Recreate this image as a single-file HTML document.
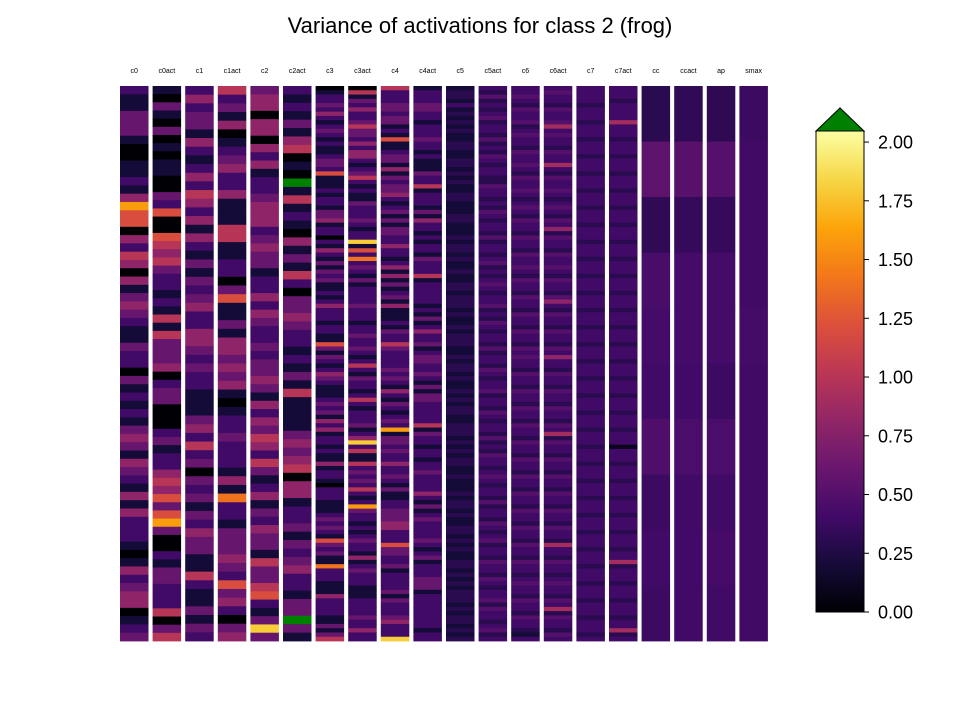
<!DOCTYPE html>
<html><head><meta charset="utf-8"><style>
body{margin:0;background:#fff;}
svg{display:block;font-family:"Liberation Sans","DejaVu Sans",sans-serif;}
</style></head><body>
<svg id="chart" width="960" height="720">
<text x="480" y="33" text-anchor="middle" font-size="22" fill="#000">Variance of activations for class 2 (frog)</text>
<g id="cols"></g>
<g id="cbar"></g>
</svg>
<script>
const columnNames = ["c0","c0act","c1","c1act","c2","c2act","c3","c3act","c4","c4act","c5","c5act","c6","c6act","c7","c7act","cc","ccact","ap","smax"];
// coarse digit strings: digit d => value d*0.2 ; G => above max (over colour)
const colC0   = "2113331001121486604254041343211322031212134314321414222101423440123";
const colC0a  = "10310301011003260065453221215153334023300023122454636830021332225035";
const colC1   = "2423314212425424142131323422443232211134252303231324331152113132";
const colC1a  = "5231401234224111551122036113144343410122322214172213334326342034";
const colC2   = "3440440424122344423433122424322323343142435425312413243315335621393";
const colC2a  = "21213145010G151210413152033432212131511113434504412231323422133G31";
const colC3   = "0122324212321211233261112122133412202142131323112124222122116313212432111232314241221211412210222111232321632311722211142222113135";
const colC3a  = "0513242235332424421235212113222321229162723213122223222122322321252132212521222312492511523232521283221212322141232221112222322422";
const colC4   = "5222332331216112331413233421231313322422124141312314111213225322223232142132123281332322422321311223334422263322312222313222342229";
const colC4a  = "1222332212223221211132251222131422121221322251222221213124223123322321313322222513221221223222242131232222321231222333122222222122";
// fine digit strings: digit d => value d*0.1
const colC5   = "2332423232322332233232322332223322232332322322332333232232333223233232232323322333232323322322232332322332323223323232333232332323";
const colC5a  = "4353434534435343543443354434354344353443453434543445343543443534435434453443543443534354434543443534435434534435443543445354434534";
const colC6   = "4454354453454435445435445434543544354435445435443544354435443545443544354435443544354435443544354435443544354435443454435443544324";
const colC6a  = "4544354459454435449435445434543548354435445435443584354435443548443544354435443549354435443544354435443544394435443454435493544354";
const colC7   = "4444344434443444344434443444344434443444344434443444344434443444344434443444344434443444344434443444344434443444344434443444344434";
const colC7a  = "4443444494443444344434443444344434443444344434443444344434443444344434443444344434441444344434443444344434443449344434443444344934";
// numeric values for coarse layers
const colCC   = [0.30,0.55,0.33,0.44,0.42,0.40,0.47,0.38,0.40,0.38];
const colCCa  = [0.33,0.52,0.35,0.42,0.42,0.41,0.45,0.40,0.41,0.40];
const colAP   = [0.32,0.50,0.35,0.42,0.42,0.38,0.45,0.40,0.43,0.40];
const colSmax = [0.38,0.40,0.40,0.40,0.42,0.40,0.40,0.40,0.40,0.40];
const cbarTicks = [0,0.25,0.5,0.75,1.0,1.25,1.5,1.75,2.0];
const vmax = 2.047;

function parse(s){return s.split("").map(c=>c==="G"?9:Number(c)*0.2);}
function parseFine(s){return s.split("").map(c=>Number(c)*0.1);}
const columnData = [parse(colC0),parse(colC0a),parse(colC1),parse(colC1a),parse(colC2),parse(colC2a),
 parse(colC3),parse(colC3a),parse(colC4),parse(colC4a),parseFine(colC5),parseFine(colC5a),parseFine(colC6),parseFine(colC6a),
 parseFine(colC7),parseFine(colC7a),colCC,colCCa,colAP,colSmax];

const stops=[[0,0,4],[22,11,57],[66,10,104],[106,23,110],[147,38,103],[188,55,84],[221,81,58],[243,120,25],[252,165,10],[246,215,70],[252,255,164]];
function inferno(v){
  if(v>vmax) return "#008000";
  let t=Math.max(0,Math.min(1,v/vmax))*10, i=Math.min(9,Math.floor(t)), f=t-i;
  const a=stops[i],b=stops[i+1];
  return "rgb("+[0,1,2].map(k=>Math.round(a[k]+(b[k]-a[k])*f)).join(",")+")";
}
const NS="http://www.w3.org/2000/svg";
const x0=120, colStep=32.6, colW=28.5, yTop=86, yBot=641;
function xScale(i){return x0+i*colStep;}
const g=document.getElementById("cols");
columnNames.forEach((name,i)=>{
  const cg=document.createElementNS(NS,"g");
  
  
  const lab=document.createElementNS(NS,"text");
  lab.setAttribute("x",xScale(i)+colW/2);lab.setAttribute("y",73);lab.setAttribute("font-size","7");
  lab.setAttribute("text-anchor","middle");lab.textContent=name;
  
  
  cg.appendChild(lab);
  const vals=columnData[i], h=(yBot-yTop)/vals.length;
  vals.forEach((v,r)=>{
    const rc=document.createElementNS(NS,"rect");
    rc.setAttribute("x",xScale(i));rc.setAttribute("width",colW);
    rc.setAttribute("y",yTop+r*h);rc.setAttribute("height",h+0.4);
    rc.setAttribute("fill",inferno(v));
    
    
    cg.appendChild(rc);
  });
  g.appendChild(cg);
});
// colorbar
const cb=document.getElementById("cbar");
const cbx=816, cbw=48, cbTop=131, cbBot=612;
function cbY(v){return cbBot-(v/vmax)*(cbBot-cbTop);}
const defs=document.createElementNS(NS,"defs");
const lg=document.createElementNS(NS,"linearGradient");
lg.setAttribute("id","grad");lg.setAttribute("x1","0");lg.setAttribute("y1","1");lg.setAttribute("x2","0");lg.setAttribute("y2","0");
stops.forEach((s,k)=>{const st=document.createElementNS(NS,"stop");st.setAttribute("offset",k/10);st.setAttribute("stop-color","rgb("+s.join(",")+")");lg.appendChild(st);});
defs.appendChild(lg);cb.appendChild(defs);
const bar=document.createElementNS(NS,"rect");
bar.setAttribute("x",cbx);bar.setAttribute("y",cbTop);bar.setAttribute("width",cbw);bar.setAttribute("height",cbBot-cbTop);
bar.setAttribute("fill","url(#grad)");bar.setAttribute("stroke","#000");bar.setAttribute("stroke-width","1");


cb.appendChild(bar);
const tri=document.createElementNS(NS,"polygon");
tri.setAttribute("points",cbx+","+cbTop+" "+(cbx+cbw/2)+",108 "+(cbx+cbw)+","+cbTop);
tri.setAttribute("fill","#008000");tri.setAttribute("stroke","#000");tri.setAttribute("stroke-width","1");


cb.appendChild(tri);
cbarTicks.forEach(v=>{
  const y=cbY(v);
  const tk=document.createElementNS(NS,"line");
  tk.setAttribute("x1",cbx+cbw);tk.setAttribute("x2",cbx+cbw+5);tk.setAttribute("y1",y);tk.setAttribute("y2",y);tk.setAttribute("stroke","#000");
  
  
  cb.appendChild(tk);
  const t=document.createElementNS(NS,"text");
  t.setAttribute("x",cbx+cbw+14);t.setAttribute("y",y+6.5);t.setAttribute("font-size","18");
  t.textContent=v.toFixed(2);
  
  
  cb.appendChild(t);
});
</script>
</body></html>
